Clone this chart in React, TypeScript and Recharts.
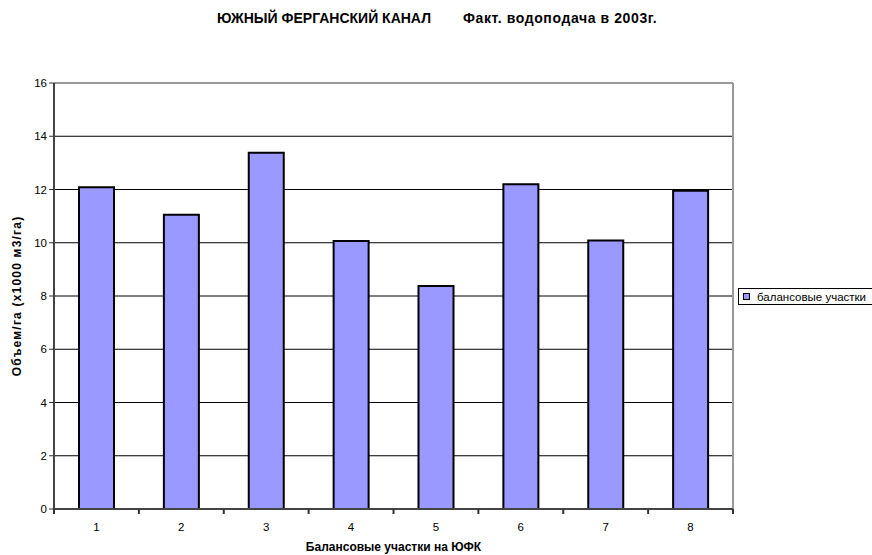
import React from "react";
import { BarChart, Bar, XAxis, YAxis, CartesianGrid, ReferenceLine, Label } from "recharts";

const categories = [1, 2, 3, 4, 5, 6, 7, 8];
const values = [12.08, 11.05, 13.38, 10.07, 8.38, 12.2, 10.08, 11.95];
const yTicks = [0, 2, 4, 6, 8, 10, 12, 14, 16];
const xTicks = [0.5, 1, 1.5, 2, 2.5, 3, 3.5, 4, 4.5, 5, 5.5, 6, 6.5, 7, 7.5, 8, 8.5];
const seriesName = "балансовые участки";
const title1 = "ЮЖНЫЙ ФЕРГАНСКИЙ КАНАЛ";
const title2 = "Факт. водоподача в 2003г.";
const xLabel = "Балансовые участки на ЮФК";
const yLabel = "Объем/га (x1000 м3/га)";

const data = categories.map((c, i) => ({ x: c, v: values[i] }));
const FONT = "Arial, 'Liberation Sans', sans-serif";

const XTick = (props: any) => {
  const { x, y, payload } = props;
  const v = payload.value;
  if (Number.isInteger(v)) {
    return (
      <text x={x} y={y + 14} textAnchor="middle" fontSize={11.5} fontFamily={FONT} fill="#000">
        {v}
      </text>
    );
  }
  return <line x1={x} x2={x} y1={y - 8} y2={y - 3} stroke="#333" strokeWidth={2} />;
};

export default function App() {
  return (
    <div style={{ position: "absolute", left: 0, top: 0, width: 872, height: 555, background: "#fff", fontFamily: FONT, overflow: "hidden" }}>
      <div style={{ position: "absolute", left: 217, top: 10, fontSize: 14, fontWeight: "bold", whiteSpace: "pre", lineHeight: "16px" }}>
        {title1}
      </div>
      <div style={{ position: "absolute", left: 463, top: 10, fontSize: 14, fontWeight: "bold", whiteSpace: "pre", lineHeight: "16px", letterSpacing: 0.6 }}>
        {title2}
      </div>
      <BarChart
        width={872}
        height={555}
        data={data}
        margin={{ top: 83, right: 139, bottom: 16, left: 14 }}
      >
        <CartesianGrid horizontal vertical={false} stroke="#000" strokeWidth={1} />
        <XAxis
          dataKey="x"
          type="number"
          domain={[0.5, 8.5]}
          ticks={xTicks}
          interval={0}
          height={30}
          tickLine={false}
          axisLine={{ stroke: "#444", strokeWidth: 2 }}
          tick={<XTick />}
        >
          <Label value={xLabel} position="insideBottom" offset={-12} fontSize={12} fontWeight="bold" fontFamily={FONT} fill="#000" />
        </XAxis>
        <YAxis
          type="number"
          domain={[0, 16]}
          ticks={yTicks}
          width={40}
          interval={0}
          tickSize={5}
          tickLine={{ stroke: "#333", strokeWidth: 1 }}
          axisLine={{ stroke: "#444", strokeWidth: 2 }}
          tick={{ fontSize: 11.5, fontFamily: FONT, fill: "#000" }}
        >
          <Label
            value={yLabel}
            angle={-90}
            position="insideLeft"
            offset={3}
            style={{ textAnchor: "middle", letterSpacing: 1.2 }}
            fontSize={12}
            fontWeight="bold"
            fontFamily={FONT}
            fill="#000"
          />
        </YAxis>
        <ReferenceLine y={16} stroke="#999" strokeWidth={2} />
        <ReferenceLine x={8.5} stroke="#999" strokeWidth={2} />
        <Bar dataKey="v" name={seriesName} fill="#9999FF" stroke="#000" strokeWidth={2} barSize={35} isAnimationActive={false} />
      </BarChart>
      <div
        style={{
          position: "absolute",
          left: 738,
          top: 288,
          width: 140,
          height: 17,
          border: "1px solid #000",
          boxSizing: "border-box",
          display: "flex",
          alignItems: "center",
          fontSize: 11.5,
          whiteSpace: "nowrap",
        }}
      >
        <span
          style={{
            display: "inline-block",
            width: 5,
            height: 5,
            background: "#9999FF",
            border: "1px solid #000",
            marginLeft: 4,
            marginRight: 7,
          }}
        />
        {seriesName}
      </div>
    </div>
  );
}
